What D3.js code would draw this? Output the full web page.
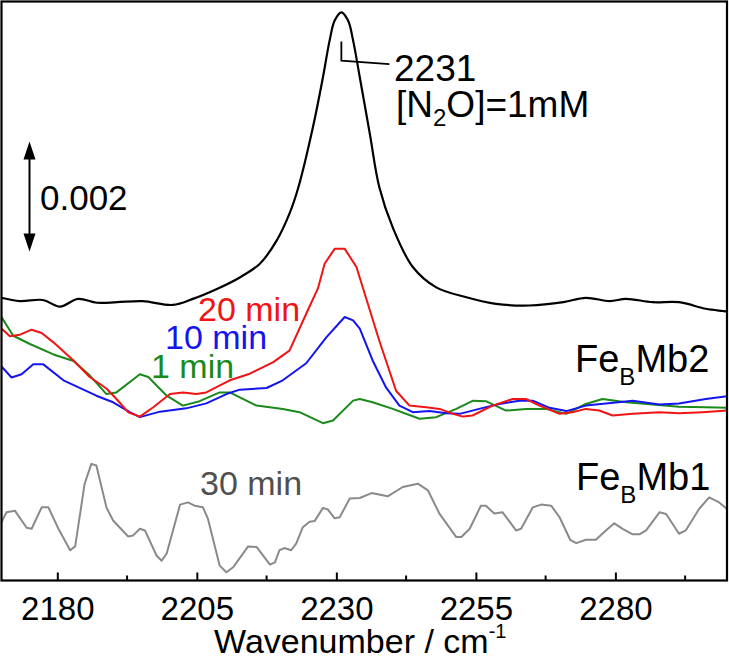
<!DOCTYPE html>
<html>
<head>
<meta charset="utf-8">
<script src="https://cdn.jsdelivr.net/npm/d3@7"></script>
<style>
  html, body { margin: 0; padding: 0; background: #fff; }
  svg { display: block; }
  text { font-family: "Liberation Sans", Arial, sans-serif; }
</style>
</head>
<body>
<svg id="chart" width="729" height="661"></svg>
<script>
// ---- Data (wavenumber in cm^-1, absorbance in units of 10^-3, traces offset) ----
const xDomain = [2170, 2300];
const majorTicks = [2180, 2205, 2230, 2255, 2280];
const minorTicks = [2192.5, 2217.5, 2242.5, 2267.5, 2292.5];
const scaleBar = 2; // 0.002

const n2o_1mM = [[2170,5.14],[2173.3,5.08],[2177.4,5.10],[2180.5,4.98],[2183.7,5.12],[2187.1,5.05],[2190.7,5.06],[2195.3,5.08],[2200.7,5.01],[2204.3,5.12],[2208.6,5.30],[2212.7,5.51],[2216.3,5.76],[2219.3,6.18],[2221.6,6.67],[2223.2,7.15],[2225.8,8.24],[2227.6,9.15],[2228.8,9.82],[2229.7,10.18],[2230.9,10.33],[2232.1,10.18],[2233.0,9.82],[2234.2,9.15],[2236.0,8.12],[2237.7,7.15],[2240.1,6.42],[2243.7,5.70],[2247.9,5.33],[2253.3,5.15],[2258.6,5.03],[2264.6,5.00],[2270.7,5.06],[2274.7,5.14],[2279.0,5.08],[2281.9,5.12],[2286.7,5.06],[2291.4,5.06],[2296.2,4.94],[2299.2,4.90],[2300,4.89]];

const mb2_20min = [[2170,4.58],[2171.5,4.44],[2173.3,4.47],[2175.4,4.56],[2177.2,4.50],[2179.3,4.33],[2182.9,4.00],[2185.8,3.70],[2188.8,3.49],[2190.6,3.30],[2192.7,3.06],[2194.8,2.98],[2197.2,3.15],[2200.2,3.39],[2202.5,3.42],[2204.9,3.39],[2206.7,3.42],[2210.9,3.64],[2214.5,3.76],[2218.7,3.97],[2221.6,4.18],[2224.6,4.85],[2226.7,5.31],[2227.9,5.76],[2229.7,6.03],[2231.5,6.03],[2233.6,5.70],[2235.1,5.21],[2237.7,4.36],[2240.7,3.45],[2243.1,3.18],[2246.1,3.15],[2248.5,3.12],[2250.9,3.03],[2252.7,2.98],[2254.4,3.00],[2258.0,3.18],[2261.6,3.30],[2264.0,3.30],[2266.4,3.18],[2270.0,3.03],[2272.3,3.06],[2274.7,3.12],[2277.1,3.09],[2279.5,3.00],[2283.1,3.03],[2287.9,3.06],[2291.4,3.04],[2295.6,3.06],[2300,3.09]];

const mb2_10min = [[2170,3.89],[2171.8,3.69],[2173.6,3.75],[2175.7,3.93],[2177.5,3.93],[2181.1,3.64],[2187.0,3.36],[2190.0,3.24],[2193.0,3.06],[2194.8,2.97],[2198.4,3.07],[2203.1,3.13],[2206.7,3.22],[2210.3,3.39],[2212.7,3.47],[2217.5,3.50],[2220.4,3.64],[2224.6,3.95],[2228.2,4.42],[2231.5,4.79],[2233.0,4.73],[2234.2,4.58],[2236.5,4.00],[2238.9,3.51],[2241.3,3.18],[2243.7,3.06],[2246.7,3.08],[2249.7,3.04],[2252.1,3.03],[2255.6,3.12],[2259.2,3.21],[2262.8,3.27],[2265.2,3.27],[2268.2,3.14],[2271.2,3.08],[2274.7,3.18],[2278.3,3.22],[2283.1,3.27],[2287.9,3.20],[2291.4,3.22],[2296.2,3.30],[2300,3.35]];

const mb2_1min = [[2170,4.79],[2172.1,4.45],[2175.1,4.30],[2179.3,4.11],[2182.9,3.99],[2185.8,3.73],[2188.8,3.39],[2190.6,3.42],[2194.8,3.75],[2196.3,3.70],[2199.6,3.36],[2202.5,3.18],[2205.5,3.26],[2209.1,3.42],[2210.9,3.42],[2215.7,3.18],[2220.4,3.12],[2223.4,3.06],[2227.6,2.86],[2229.4,2.91],[2233.0,3.27],[2234.2,3.30],[2236.5,3.24],[2240.1,3.12],[2244.9,2.94],[2247.9,2.97],[2251.5,3.12],[2254.5,3.27],[2256.8,3.26],[2260.4,3.09],[2264.0,3.12],[2267.6,3.12],[2271.2,3.03],[2274.7,3.21],[2277.7,3.30],[2281.9,3.24],[2286.7,3.20],[2291.4,3.16],[2296.2,3.15],[2300,3.14]];

const mb1_30min = [[2170,1.06],[2170.9,1.24],[2172.4,1.27],[2174.5,0.96],[2175.4,0.94],[2177.2,1.33],[2178.4,1.33],[2180.2,0.94],[2182.3,0.55],[2183.2,0.62],[2184.9,1.76],[2186.1,2.12],[2187.0,2.09],[2188.8,1.33],[2190.0,1.09],[2192.7,0.80],[2193.6,0.82],[2194.8,0.94],[2195.7,0.91],[2197.8,0.45],[2198.7,0.36],[2199.6,0.49],[2202.0,1.38],[2203.4,1.42],[2204.6,1.36],[2206.1,1.33],[2207.0,1.12],[2209.1,0.27],[2210.3,0.15],[2211.5,0.24],[2214.2,0.62],[2215.7,0.61],[2218.1,0.29],[2219.0,0.33],[2219.8,0.55],[2220.7,0.59],[2221.9,0.55],[2222.8,0.67],[2224.0,0.97],[2225.2,1.07],[2226.1,1.08],[2227.6,1.32],[2228.5,1.29],[2229.7,1.13],[2230.6,1.15],[2232.4,1.49],[2234.2,1.50],[2236.3,1.59],[2239.2,1.53],[2241.9,1.70],[2244.6,1.76],[2246.4,1.64],[2248.5,1.21],[2251.5,0.79],[2252.4,0.79],[2253.9,0.94],[2255.9,1.36],[2256.8,1.36],[2258.3,1.22],[2259.8,1.24],[2262.2,0.91],[2263.1,0.94],[2265.2,1.33],[2266.7,1.38],[2268.5,1.36],[2270.0,1.15],[2271.9,0.74],[2273.0,0.68],[2274.7,0.74],[2276.5,0.74],[2278.3,0.91],[2279.8,1.04],[2281.3,0.94],[2283.1,0.84],[2284.3,0.84],[2285.5,0.91],[2287.9,1.24],[2289.1,1.21],[2291.4,0.85],[2292.6,0.91],[2295.0,1.30],[2296.8,1.51],[2298.6,1.42],[2300,1.30]];

// ---- Layout ----
const svg = d3.select("#chart");
const L = 1.5, R = 727, T = 1.5, B = 580.5;
const x = d3.scaleLinear().domain(xDomain).range([L, R]);
const y = d3.scaleLinear().domain([0, 10.527]).range([B, T]);

svg.append("defs").append("clipPath").attr("id", "clip")
  .append("rect").attr("x", L).attr("y", T).attr("width", R - L).attr("height", B - T);

const line = d3.line().x(d => x(d[0])).y(d => y(d[1]));
const smooth = d3.line().x(d => x(d[0])).y(d => y(d[1])).curve(d3.curveCatmullRom);

const g = svg.append("g").attr("clip-path", "url(#clip)");
const traces = [
  {data: mb1_30min, color: "#8a8a8a", w: 2, gen: line},
  {data: mb2_1min, color: "#1a8a1a", w: 2, gen: line},
  {data: mb2_10min, color: "#1414f0", w: 2, gen: line},
  {data: mb2_20min, color: "#f01414", w: 2, gen: line},
  {data: n2o_1mM, color: "#000000", w: 2.2, gen: smooth}
];
traces.forEach(t => {
  g.append("path").datum(t.data)
    .attr("fill", "none").attr("stroke", t.color)
    .attr("stroke-width", t.w).attr("stroke-linejoin", "round")
    .attr("d", t.gen);
});

// ---- Axis ----
const axis = d3.axisBottom(x).tickValues(majorTicks).tickSize(-8).tickSizeOuter(0).tickFormat(d3.format("d"));
const ax = svg.append("g").attr("transform", `translate(0,${B})`).call(axis);
ax.select(".domain").remove();
ax.selectAll(".tick line").attr("stroke", "#000").attr("stroke-width", 2);
ax.selectAll(".tick text").attr("y", 39.5).attr("dy", 0)
  .attr("font-size", 33).attr("fill", "#000")
  .style("font-family", "'Liberation Sans', Arial, sans-serif");
svg.append("g").selectAll("line").data(minorTicks).join("line")
  .attr("x1", d => x(d)).attr("x2", d => x(d))
  .attr("y1", B).attr("y2", B - 5)
  .attr("stroke", "#000").attr("stroke-width", 2);

// frame
svg.append("rect").attr("x", L).attr("y", T).attr("width", R - L).attr("height", B - T)
  .attr("fill", "none").attr("stroke", "#000").attr("stroke-width", 2.2);

// axis title
const title = svg.append("text").attr("x", x(2235) - 4).attr("y", 653)
  .attr("text-anchor", "middle").attr("font-size", 34).attr("fill", "#000");
title.append("tspan").text("Wavenumber / cm");
title.append("tspan").attr("font-size", 20).attr("dy", -15).text("-1");

// ---- Scale bar ----
const sbX = 29.5;
const sbTop = y(7.98), sbBot = sbTop + (y(0) - y(scaleBar));
svg.append("line").attr("x1", sbX).attr("x2", sbX).attr("y1", sbTop + 14).attr("y2", sbBot - 14)
  .attr("stroke", "#000").attr("stroke-width", 2);
svg.append("path").attr("d", `M${sbX},${sbTop} L${sbX - 6},${sbTop + 18} L${sbX + 6},${sbTop + 18} Z`).attr("fill", "#000");
svg.append("path").attr("d", `M${sbX},${sbBot} L${sbX - 6},${sbBot - 18} L${sbX + 6},${sbBot - 18} Z`).attr("fill", "#000");
svg.append("text").attr("x", 40).attr("y", 210).attr("font-size", 35).attr("fill", "#000").text("0.002");

// ---- Peak annotation ----
const pk = 2230.9;
svg.append("path")
  .attr("d", `M${x(pk)},${y(9.8)} L${x(pk)},${y(9.45)} L${x(2239.5)},${y(9.39)}`)
  .attr("fill", "none").attr("stroke", "#000").attr("stroke-width", 1.8);
svg.append("text").attr("x", 394).attr("y", 81).attr("font-size", 37).attr("fill", "#000").text("2231");
const conc = svg.append("text").attr("x", 396).attr("y", 117).attr("font-size", 37).attr("fill", "#000");
conc.append("tspan").text("[N");
conc.append("tspan").attr("font-size", 24).attr("dy", 9).text("2");
conc.append("tspan").attr("dy", -9).text("O]=1mM");

// ---- Series labels ----
svg.append("text").attr("x", 198).attr("y", 321).attr("font-size", 34).attr("fill", "#f01414").text("20 min");
svg.append("text").attr("x", 165).attr("y", 349).attr("font-size", 34).attr("fill", "#1414f0").text("10 min");
svg.append("text").attr("x", 151).attr("y", 378).attr("font-size", 34).attr("fill", "#1a8a1a").text("1 min");
svg.append("text").attr("x", 200).attr("y", 495).attr("font-size", 34).attr("fill", "#505050").text("30 min");

function feLabel(xp, yp, num) {
  const t = svg.append("text").attr("x", xp).attr("y", yp).attr("font-size", 38).attr("fill", "#000");
  t.append("tspan").text("Fe");
  t.append("tspan").attr("font-size", 24).attr("dy", 13).text("B");
  t.append("tspan").attr("dy", -13).text("Mb" + num);
}
feLabel(575, 372, 2);
feLabel(576, 490, 1);
</script>
</body>
</html>
